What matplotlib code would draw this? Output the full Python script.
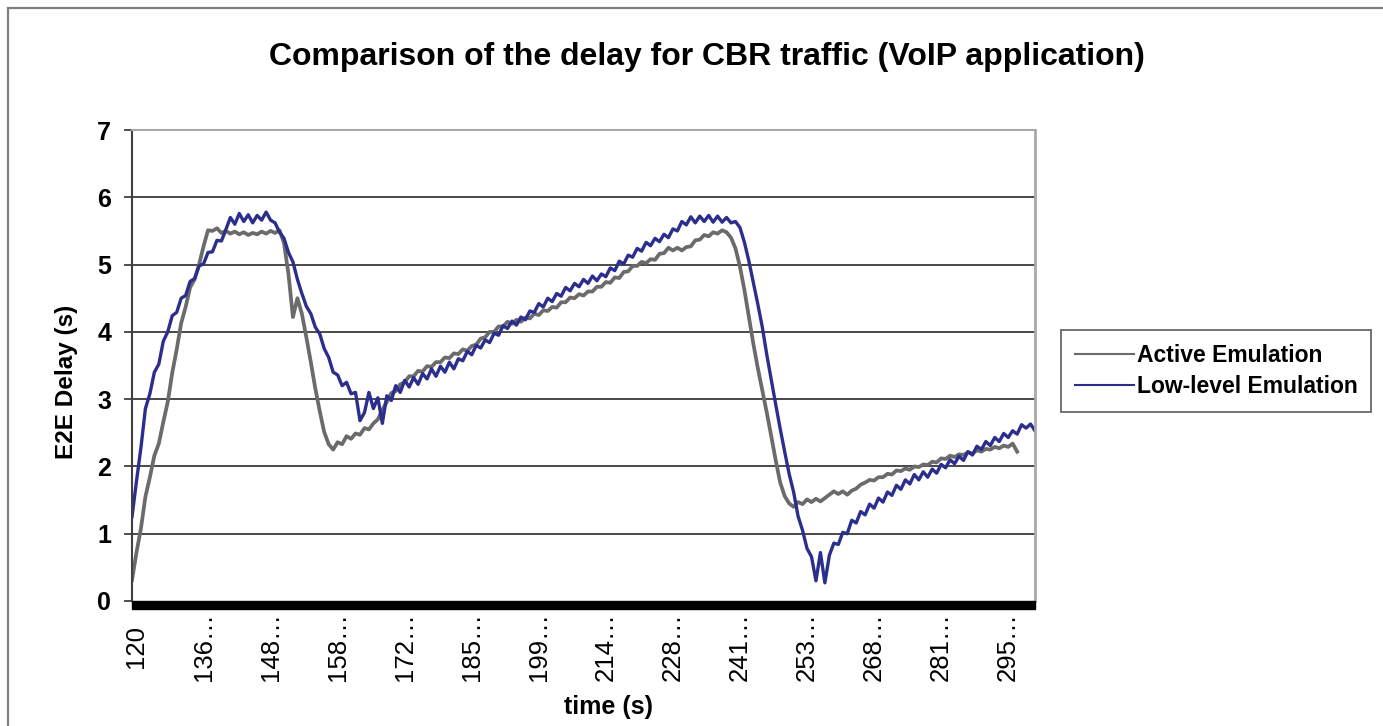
import matplotlib
matplotlib.use("Agg")
import matplotlib.pyplot as plt
from matplotlib.patches import Rectangle
from matplotlib.lines import Line2D

plt.rcParams['font.family'] = ['Liberation Sans', 'DejaVu Sans']

# E2E delay samples (s), one value per category on the time axis
active = [
    0.31, 0.72, 1.08, 1.55, 1.84, 2.16, 2.34, 2.66, 2.96, 3.39,
    3.74, 4.13, 4.37, 4.66, 4.78, 5.00, 5.27, 5.51, 5.50, 5.54,
    5.47, 5.50, 5.46, 5.49, 5.45, 5.48, 5.44, 5.47, 5.45, 5.49,
    5.46, 5.50, 5.47, 5.51, 5.32, 4.86, 4.22, 4.50, 4.27, 3.92,
    3.55, 3.16, 2.82, 2.51, 2.33, 2.25, 2.36, 2.33, 2.45, 2.41,
    2.49, 2.47, 2.57, 2.55, 2.64, 2.70, 2.84, 2.96, 3.09, 3.12,
    3.22, 3.25, 3.34, 3.34, 3.42, 3.41, 3.49, 3.48, 3.55, 3.55,
    3.62, 3.61, 3.68, 3.67, 3.74, 3.72, 3.79, 3.81, 3.90, 3.92,
    4.00, 4.00, 4.08, 4.08, 4.15, 4.12, 4.18, 4.15, 4.21, 4.20,
    4.27, 4.25, 4.32, 4.31, 4.37, 4.36, 4.44, 4.44, 4.51, 4.50,
    4.56, 4.54, 4.60, 4.60, 4.67, 4.67, 4.74, 4.73, 4.81, 4.80,
    4.89, 4.90, 4.98, 4.98, 5.04, 5.02, 5.08, 5.07, 5.16, 5.17,
    5.25, 5.21, 5.25, 5.21, 5.26, 5.27, 5.36, 5.37, 5.44, 5.42,
    5.48, 5.46, 5.51, 5.48, 5.40, 5.24, 4.97, 4.62, 4.22, 3.82,
    3.46, 3.13, 2.80, 2.45, 2.09, 1.76, 1.56, 1.45, 1.40, 1.47,
    1.44, 1.51, 1.47, 1.52, 1.48, 1.53, 1.58, 1.63, 1.59, 1.63,
    1.58, 1.64, 1.67, 1.73, 1.76, 1.80, 1.79, 1.84, 1.84, 1.89,
    1.88, 1.94, 1.93, 1.97, 1.95, 2.00, 1.99, 2.03, 2.02, 2.07,
    2.06, 2.12, 2.11, 2.16, 2.14, 2.18, 2.17, 2.21, 2.19, 2.24,
    2.22, 2.26, 2.25, 2.29, 2.27, 2.31, 2.29, 2.34, 2.22,
]

low_level = [
    1.25, 1.78, 2.28, 2.86, 3.08, 3.40, 3.52, 3.86, 4.00, 4.24,
    4.29, 4.50, 4.54, 4.75, 4.79, 4.98, 5.01, 5.18, 5.19, 5.36,
    5.35, 5.52, 5.70, 5.60, 5.76, 5.64, 5.74, 5.62, 5.73, 5.66,
    5.78, 5.66, 5.62, 5.48, 5.39, 5.18, 5.04, 4.78, 4.57, 4.38,
    4.27, 4.07, 3.97, 3.75, 3.62, 3.40, 3.36, 3.20, 3.25, 3.08,
    3.10, 2.68, 2.80, 3.10, 2.86, 3.02, 2.64, 3.05, 2.98, 3.20,
    3.10, 3.28, 3.18, 3.32, 3.22, 3.38, 3.30, 3.45, 3.34, 3.49,
    3.40, 3.55, 3.45, 3.60, 3.57, 3.71, 3.66, 3.80, 3.76, 3.88,
    3.84, 3.98, 3.95, 4.09, 4.05, 4.16, 4.10, 4.22, 4.18, 4.31,
    4.29, 4.42, 4.37, 4.50, 4.45, 4.57, 4.53, 4.66, 4.61, 4.72,
    4.67, 4.78, 4.72, 4.83, 4.76, 4.86, 4.82, 4.95, 4.91, 5.05,
    5.01, 5.14, 5.11, 5.24, 5.20, 5.33, 5.28, 5.39, 5.34, 5.45,
    5.40, 5.53, 5.50, 5.64, 5.59, 5.71, 5.62, 5.72, 5.64, 5.73,
    5.63, 5.72, 5.63, 5.70, 5.62, 5.64, 5.55, 5.33, 5.05, 4.73,
    4.41, 4.07, 3.66, 3.29, 2.92, 2.56, 2.22, 1.89, 1.62, 1.26,
    1.05, 0.78, 0.66, 0.30, 0.72, 0.27, 0.68, 0.86, 0.84, 1.02,
    1.00, 1.20, 1.16, 1.33, 1.28, 1.44, 1.38, 1.53, 1.47, 1.62,
    1.57, 1.72, 1.66, 1.80, 1.74, 1.88, 1.80, 1.92, 1.84, 1.96,
    1.90, 2.03, 1.98, 2.10, 2.04, 2.15, 2.09, 2.22, 2.17, 2.30,
    2.25, 2.37, 2.31, 2.43, 2.37, 2.49, 2.43, 2.53, 2.48, 2.62,
    2.57, 2.63, 2.53,
]

time_labels = ['120', '136…', '148…', '158…', '172…', '185…', '199…',
               '214…', '228…', '241…', '253…', '268…', '281…', '295…']
label_every = 15

GRAY = '#6b6b6b'
NAVY = '#2b2e8c'

W, H = 1383, 726
fig = plt.figure(figsize=(W / 100, H / 100), dpi=100)

# chart area border (only top and left edges fall inside the image)
fig.add_artist(Rectangle((8 / W, -0.2), 1.2, 1.2 - 8 / H,
                         transform=fig.transFigure, fill=False,
                         edgecolor='#7f7f7f', linewidth=1.6))

ax = fig.add_axes([132 / W, 1 - 601 / H, 903 / W, 471 / H])

ax.plot(range(len(active)), active, color=GRAY, lw=2.7, solid_joinstyle='round')
ax.plot(range(len(low_level)), low_level, color=NAVY, lw=2.4, solid_joinstyle='round')

ax.set_xlim(0, len(low_level) - 1)
ax.set_ylim(0, 7)

for y in range(1, 7):
    ax.axhline(y, color='#3a3a3a', lw=1.3, zorder=0)

ax.set_yticks(range(0, 8))
ax.set_yticklabels([str(v) for v in range(0, 8)], fontsize=18, fontweight='bold')
ax.tick_params(axis='y', length=6, width=1.3, color='#404040', pad=9)
ax.set_xticks([])

ax.spines['top'].set_color('#a8a8a8')
ax.spines['top'].set_linewidth(1.5)
ax.spines['right'].set_color('#a8a8a8')
ax.spines['right'].set_linewidth(2)
ax.spines['left'].set_color('#404040')
ax.spines['left'].set_linewidth(1.5)
ax.spines['bottom'].set_visible(False)

# heavy category axis
band = 8 / 471
ax.add_patch(Rectangle((0, -band), 1, band, transform=ax.transAxes,
                       color='black', clip_on=False, zorder=5))

xt = ax.get_xaxis_transform()
for k, lab in enumerate(time_labels):
    ax.text(1 + k * label_every, -46 / 471, lab, transform=xt, rotation=90,
            ha='center', va='center', fontsize=18.5)

fig.text(608 / W, 1 - 707 / H, 'time (s)', ha='center', va='center',
         fontsize=18, fontweight='bold')
fig.text(66 / W, 1 - 382 / H, 'E2E Delay (s)', ha='center', va='center',
         rotation=90, fontsize=17.5, fontweight='bold')
fig.text(707 / W, 1 - 57 / H,
         'Comparison of the delay for CBR traffic (VoIP application)',
         ha='center', va='center', fontsize=23, fontweight='bold')

handles = [Line2D([], [], color=GRAY, lw=1.5), Line2D([], [], color=NAVY, lw=1.5)]
leg = fig.legend(handles, ['Active Emulation', 'Low-level Emulation'],
                 loc='upper left', bbox_to_anchor=(1061 / W, 1 - 330 / H),
                 prop={'size': 16.5, 'weight': 'bold'}, frameon=True,
                 fancybox=False, edgecolor='#333333', borderaxespad=0,
                 handlelength=2.6, handletextpad=0.1, borderpad=0.6,
                 labelspacing=0.35)
leg.get_frame().set_linewidth(1.2)

fig.savefig('out.png', dpi=100)
